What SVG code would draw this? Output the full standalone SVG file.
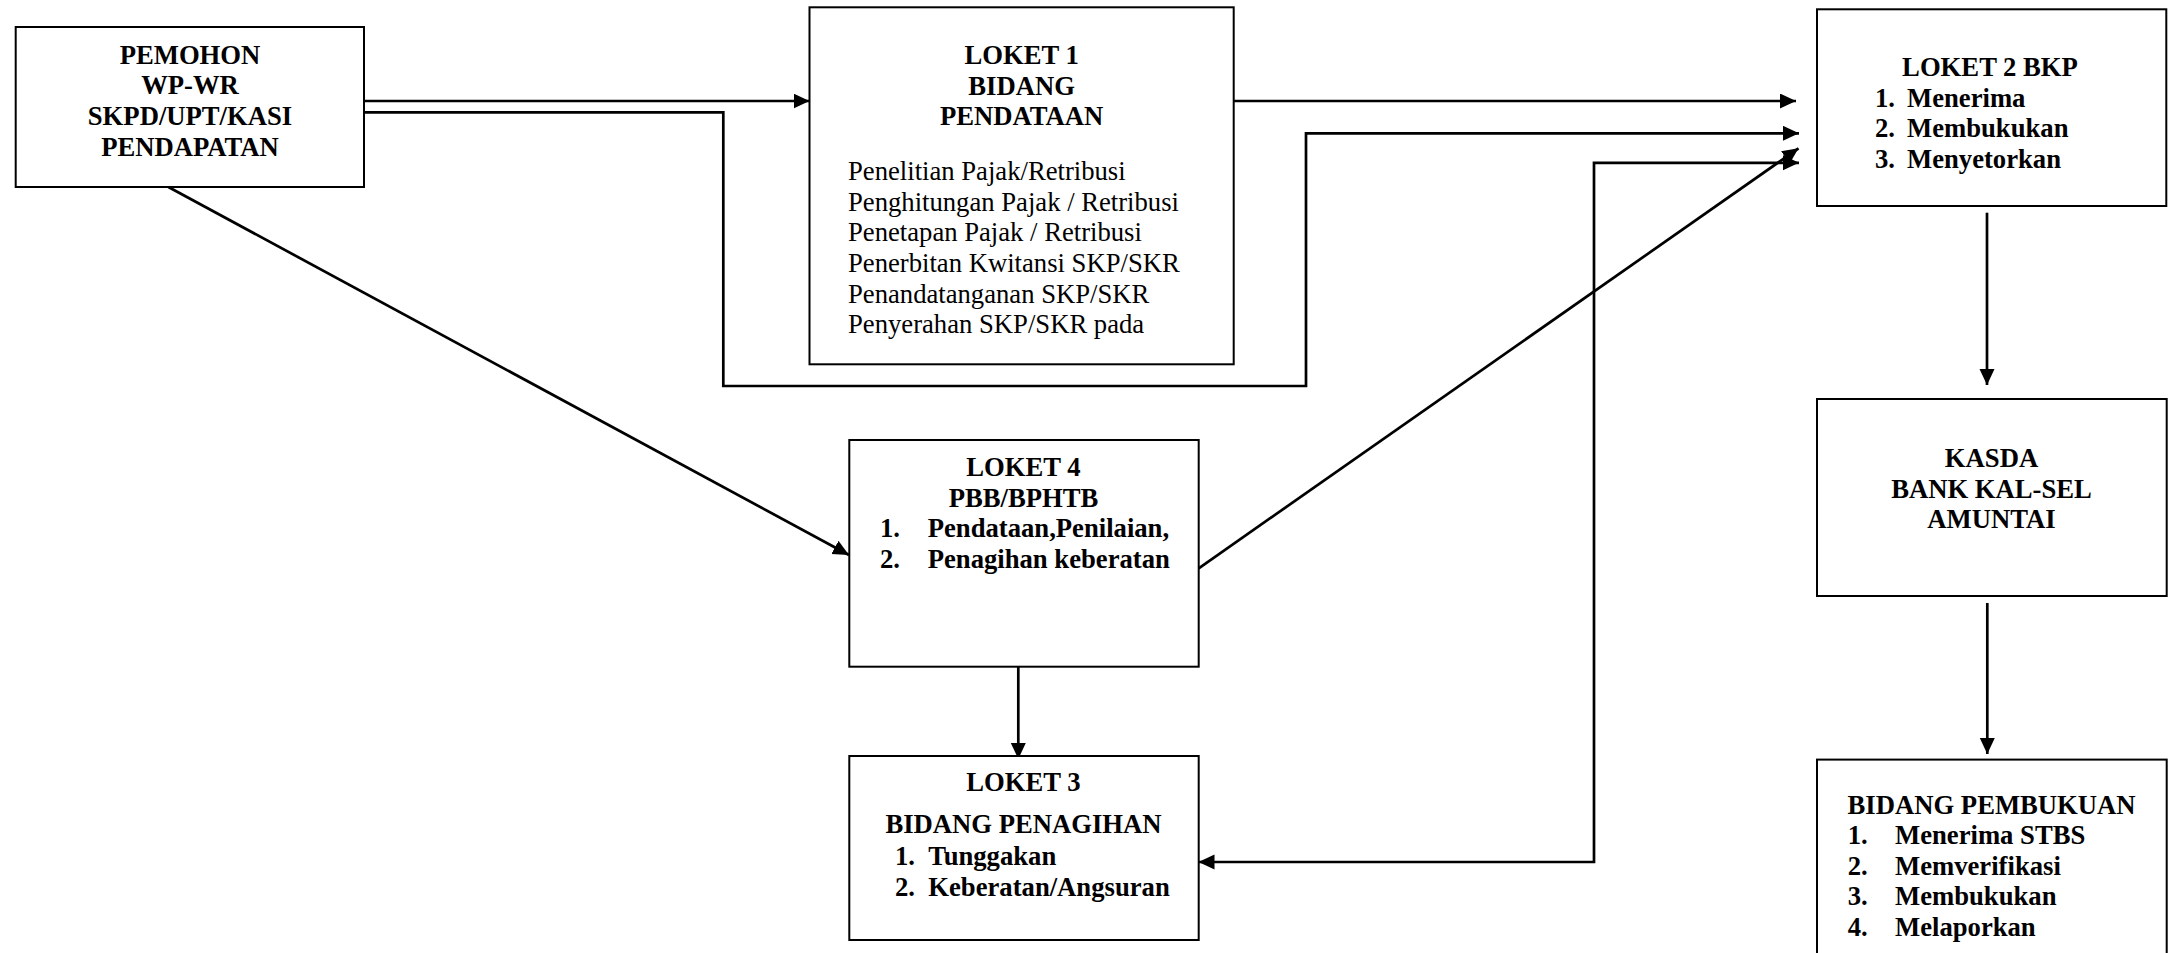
<svg xmlns="http://www.w3.org/2000/svg" width="2170" height="953" viewBox="0 0 2170 953">
<style>
  .box { fill: #ffffff; stroke: #000000; stroke-width: 2; }
  .b { font-family: "Liberation Serif", "Times New Roman", serif; font-size: 26.67px; font-weight: bold; fill: #000; }
  .r { font-family: "Liberation Serif", "Times New Roman", serif; font-size: 26.67px; fill: #000; }
  .c { text-anchor: middle; }
  .ln { fill: none; stroke: #000; stroke-width: 2.7; }
</style>
<defs>
  <marker id="ah" markerUnits="userSpaceOnUse" markerWidth="18" markerHeight="16" refX="16" refY="7.5" orient="auto-start-reverse" viewBox="0 0 18 16">
    <path d="M0,0 L16,7.5 L0,15 Z" fill="#000"/>
  </marker>
</defs>
<rect width="2170" height="953" fill="#ffffff"/>

<g id="connectors">
  <line class="ln" x1="353" y1="101" x2="809.5" y2="101" marker-end="url(#ah)"/>
  <line class="ln" x1="1233.7" y1="101" x2="1796" y2="101" marker-end="url(#ah)"/>
  <polyline class="ln" points="364,112.3 723.3,112.3 723.3,386 1306,386 1306,133.3 1799,133.3" marker-end="url(#ah)"/>
  <line class="ln" x1="1198.7" y1="568.3" x2="1798.5" y2="148.3" marker-end="url(#ah)"/>
  <polyline class="ln" points="1799,162.8 1594,162.8 1594,862 1198.5,862" marker-start="url(#ah)" marker-end="url(#ah)"/>
  <line class="ln" x1="168.4" y1="187" x2="849" y2="555" marker-end="url(#ah)"/>
  <line class="ln" x1="1018.3" y1="666.7" x2="1018.3" y2="759" marker-end="url(#ah)"/>
  <line class="ln" x1="1987" y1="212.7" x2="1987" y2="385" marker-end="url(#ah)"/>
  <line class="ln" x1="1987.3" y1="603" x2="1987.3" y2="754" marker-end="url(#ah)"/>
</g>

<g id="pemohon">
  <rect class="box" x="15.7" y="27" width="348.3" height="160"/>
  <text class="b c" x="190" y="63.5">PEMOHON</text>
  <text class="b c" x="190" y="94.2">WP-WR</text>
  <text class="b c" x="190" y="124.8">SKPD/UPT/KASI</text>
  <text class="b c" x="190" y="155.5">PENDAPATAN</text>
</g>

<g id="loket1">
  <rect class="box" x="809.5" y="7.3" width="424.2" height="357"/>
  <text class="b c" x="1021.6" y="64">LOKET 1</text>
  <text class="b c" x="1021.6" y="94.7">BIDANG</text>
  <text class="b c" x="1021.6" y="125.3">PENDATAAN</text>
  <text class="r" x="848" y="180">Penelitian Pajak/Retribusi</text>
  <text class="r" x="848" y="210.7">Penghitungan Pajak / Retribusi</text>
  <text class="r" x="848" y="241.3">Penetapan Pajak / Retribusi</text>
  <text class="r" x="848" y="272">Penerbitan Kwitansi SKP/SKR</text>
  <text class="r" x="848" y="302.7">Penandatanganan SKP/SKR</text>
  <text class="r" x="848" y="333.3">Penyerahan SKP/SKR pada</text>
</g>

<g id="loket2">
  <rect class="box" x="1817" y="9.3" width="349.3" height="196.7"/>
  <text class="b c" x="1990" y="76">LOKET 2 BKP</text>
  <text class="b" y="106.7"><tspan x="1875">1.</tspan><tspan x="1907">Menerima</tspan></text>
  <text class="b" y="137.3"><tspan x="1875">2.</tspan><tspan x="1907">Membukukan</tspan></text>
  <text class="b" y="168"><tspan x="1875">3.</tspan><tspan x="1907">Menyetorkan</tspan></text>
</g>

<g id="loket4">
  <rect class="box" x="849.3" y="440" width="349.4" height="226.7"/>
  <text class="b c" x="1023.5" y="475.8">LOKET 4</text>
  <text class="b c" x="1023.5" y="506.5">PBB/BPHTB</text>
  <text class="b" y="537"><tspan x="880">1.</tspan><tspan x="927.7">Pendataan,Penilaian,</tspan></text>
  <text class="b" y="567.7"><tspan x="880">2.</tspan><tspan x="927.7">Penagihan keberatan</tspan></text>
</g>

<g id="loket3">
  <rect class="box" x="849.3" y="756" width="349.4" height="184"/>
  <text class="b c" x="1023.5" y="790.8">LOKET 3</text>
  <text class="b c" x="1023.5" y="833">BIDANG PENAGIHAN</text>
  <text class="b" y="865"><tspan x="895">1.</tspan><tspan x="928.3">Tunggakan</tspan></text>
  <text class="b" y="895.6"><tspan x="895">2.</tspan><tspan x="928.3">Keberatan/Angsuran</tspan></text>
</g>

<g id="kasda">
  <rect class="box" x="1817" y="399" width="349.7" height="197"/>
  <text class="b c" x="1991.5" y="466.5">KASDA</text>
  <text class="b c" x="1991.5" y="497.5">BANK KAL-SEL</text>
  <text class="b c" x="1991.5" y="527.8">AMUNTAI</text>
</g>

<g id="bidang-pembukuan">
  <rect class="box" x="1817" y="759.6" width="349.7" height="210"/>
  <text class="b c" x="1991.6" y="813.5">BIDANG PEMBUKUAN</text>
  <text class="b" y="844"><tspan x="1847.7">1.</tspan><tspan x="1895">Menerima STBS</tspan></text>
  <text class="b" y="874.5"><tspan x="1847.7">2.</tspan><tspan x="1895">Memverifikasi</tspan></text>
  <text class="b" y="905"><tspan x="1847.7">3.</tspan><tspan x="1895">Membukukan</tspan></text>
  <text class="b" y="935.5"><tspan x="1847.7">4.</tspan><tspan x="1895">Melaporkan</tspan></text>
</g>
</svg>
